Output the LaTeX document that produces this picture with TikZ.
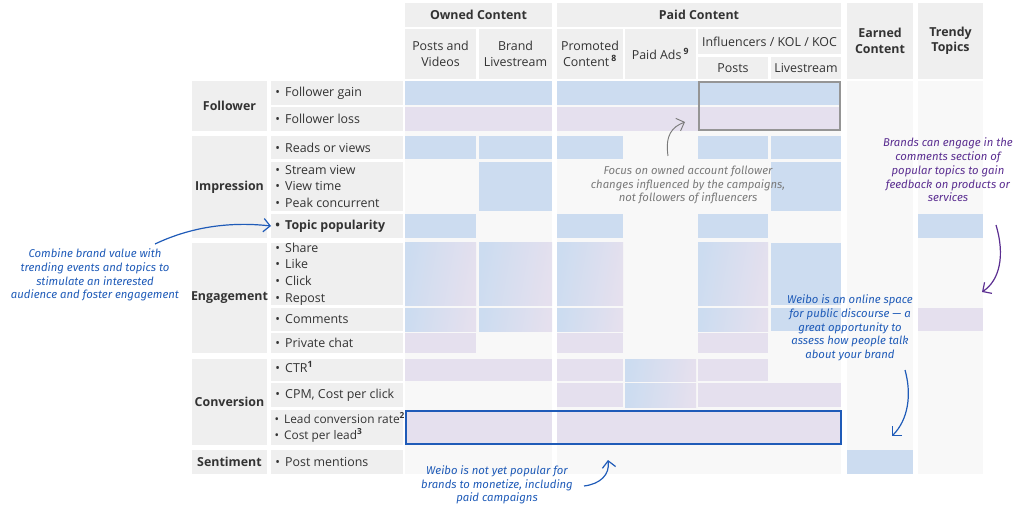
\documentclass[tikz,border=0pt]{standalone}
\usepackage{fontspec}
\setmainfont{Open Sans}
\newfontfamily\hand{Fira Sans}
\usetikzlibrary{fit,arrows.meta}
\definecolor{cb}{HTML}{CCDCF0}
\definecolor{cp}{HTML}{E5E0EE}
\definecolor{hg}{HTML}{EFEFEF}
\definecolor{bg}{HTML}{F8F8F8}
\definecolor{tx}{HTML}{333333}
\definecolor{ab}{HTML}{1F5BB8}
\definecolor{ap}{HTML}{5B2E91}
\definecolor{ag}{HTML}{7A7A7A}
\newcommand\cel[6]{\node[fit={(#2,#3)(#4,#5)},inner sep=0pt,outer sep=0pt,draw=none,#6] (#1) {};}
\tikzset{
  lab/.style={text=tx,font=\fontsize{9.3}{11.5}\selectfont,align=center,inner sep=0pt},
  hb/.style={lab,font=\bfseries\fontsize{9.3}{11.5}\selectfont},
  met/.style={text=tx,font=\fontsize{9.3}{12.5}\selectfont,align=left,anchor=west,inner sep=0pt},
  gr/.style={left color=cb,right color=cp,shading angle=80},
  note/.style={font=\hand\itshape\fontsize{8.5}{10.3}\selectfont,align=center,inner sep=0pt},
  arr/.style={-{Straight Barb[length=5pt]},line width=0.9pt}
}
\begin{document}
\begin{tikzpicture}[x=0.75pt,y=-0.75pt]
\useasboundingbox (0,0) rectangle (1024,527);
% body backgrounds
\cel{bgo}{405}{81}{552}{474}{fill=bg}
\cel{bgp}{557}{81}{841}{474}{fill=bg}
\cel{bge}{847}{81}{913}{474}{fill=bg}
\cel{bgt}{918}{81}{983}{474}{fill=bg}
% headers
\cel{hown}{405}{3}{552}{27}{fill=hg}
\cel{hpaid}{557}{3}{841}{27}{fill=hg}
\cel{hpv}{405}{29}{476}{79}{fill=hg}
\cel{hbl}{479}{29}{552}{79}{fill=hg}
\cel{hpc}{557}{29}{623}{79}{fill=hg}
\cel{hpa}{625}{29}{696}{79}{fill=hg}
\cel{hinf}{698}{29}{841}{54}{fill=hg}
\cel{hip}{698}{57}{768}{79}{fill=hg}
\cel{hil}{771}{57}{841}{79}{fill=hg}
\cel{hea}{847}{3}{913}{79}{fill=hg}
\cel{htr}{918}{3}{983}{79}{fill=hg}
\node[hb] at (hown) {Owned Content};
\node[hb] at (hpaid) {Paid Content};
\node[lab] at (hpv) {Posts and\\Videos};
\node[lab] at (hbl) {Brand\\Livestream};
\node[lab] at (hpc) {Promoted\\Content\,\textsuperscript{\bfseries 8}};
\node[lab] at (hpa) {Paid Ads\,\textsuperscript{\bfseries 9}};
\node[lab] at (hinf) {Influencers / KOL / KOC};
\node[lab] at (hip) {Posts};
\node[lab] at (hil) {Livestream};
\node[hb] at (hea) {Earned\\Content};
\node[hb] at (htr) {Trendy\\Topics};
% categories
\cel{cfol}{192}{81}{267}{131}{fill=hg}
\cel{cimp}{192}{136}{267}{238}{fill=hg}
\cel{ceng}{192}{243}{267}{353}{fill=hg}
\cel{ccon}{192}{359}{267}{445}{fill=hg}
\cel{csen}{192}{450}{267}{474}{fill=hg}
\node[hb] at (cfol) {Follower};
\node[hb] at (cimp) {Impression};
\node[hb] at (ceng) {Engagement};
\node[hb] at (ccon) {Conversion};
\node[hb] at (csen) {Sentiment};
% metrics
\cel{m1}{271}{81}{403}{105}{fill=hg}
\cel{m2}{271}{107}{403}{131}{fill=hg}
\cel{m3}{271}{136}{403}{159}{fill=hg}
\cel{m4}{271}{162}{403}{211}{fill=hg}
\cel{m5}{271}{214}{403}{238}{fill=hg}
\cel{m6}{271}{243}{403}{305}{fill=hg}
\cel{m7}{271}{308}{403}{331}{fill=hg}
\cel{m8}{271}{333}{403}{353}{fill=hg}
\cel{m9}{271}{359}{403}{381}{fill=hg}
\cel{m10}{271}{383}{403}{407}{fill=hg}
\cel{m11}{271}{410}{403}{445}{fill=hg}
\cel{m12}{271}{450}{403}{474}{fill=hg}
\node[met] at ([xshift=3pt]m1.west) {• \,Follower gain};
\node[met] at ([xshift=3pt]m2.west) {• \,Follower loss};
\node[met] at ([xshift=3pt]m3.west) {• \,Reads or views};
\node[met] at ([xshift=3pt]m4.west) {• \,Stream view\\• \,View time\\• \,Peak concurrent};
\node[met] at ([xshift=3pt]m5.west) {\bfseries • \,Topic popularity};
\node[met] at ([xshift=3pt]m6.west) {• \,Share\\• \,Like\\• \,Click\\• \,Repost};
\node[met] at ([xshift=3pt]m7.west) {• \,Comments};
\node[met] at ([xshift=3pt]m8.west) {• \,Private chat};
\node[met] at ([xshift=3pt,yshift=2pt]m9.west) {• \,CTR\textsuperscript{\bfseries 1}};
\node[met] at ([xshift=3pt]m10.west) {• \,CPM, Cost per click};
\node[met,font=\fontsize{8.9}{12.5}\selectfont] at ([xshift=2.5pt]m11.west) {• \,Lead conversion rate\textsuperscript{\bfseries 2}\\• \,Cost per lead\textsuperscript{\bfseries 3}};
\node[met] at ([xshift=3pt]m12.west) {• \,Post mentions};
% follower
\cel{f1o}{405}{81}{552}{105}{fill=cb}
\cel{f1p}{557}{81}{841}{105}{fill=cb}
\cel{f2o}{405}{107}{552}{131}{fill=cp}
\cel{f2p}{557}{107}{841}{131}{fill=cp}
\cel{finf}{699}{82}{840}{130}{draw=ag!80,line width=1.2pt}
% reads
\cel{r1}{405}{136}{476}{159}{fill=cb}
\cel{r2}{479}{136}{552}{159}{fill=cb}
\cel{r3}{557}{136}{623}{159}{fill=cb}
\cel{r4}{698}{136}{768}{159}{fill=cb}
\cel{r5}{771}{136}{841}{159}{fill=cb}
% stream
\cel{s2}{479}{162}{552}{211}{fill=cb}
\cel{s5}{771}{162}{841}{211}{fill=cb}
% topic
\cel{t1}{405}{214}{476}{238}{fill=cb}
\cel{t3}{557}{214}{623}{238}{fill=cb}
\cel{t4}{698}{214}{768}{238}{fill=cb}
\cel{t7}{918}{214}{983}{238}{fill=cb}
% share
\cel{e1}{405}{243}{476}{305}{gr}
\cel{e2}{479}{243}{552}{305}{gr}
\cel{e3}{557}{243}{623}{305}{gr}
\cel{e4}{698}{243}{768}{305}{gr}
\cel{e5}{771}{243}{841}{305}{fill=cb}
% comments
\cel{k1}{405}{308}{476}{331}{gr}
\cel{k2}{479}{308}{552}{331}{gr}
\cel{k3}{557}{308}{623}{331}{gr}
\cel{k4}{698}{308}{768}{331}{gr}
\cel{k5}{771}{308}{841}{331}{fill=cb}
\cel{k7}{918}{308}{983}{331}{fill=cp}
% private
\cel{p1}{405}{333}{476}{353}{fill=cp}
\cel{p3}{557}{333}{623}{353}{fill=cp}
\cel{p4}{698}{333}{768}{353}{fill=cp}
% ctr
\cel{c1}{405}{359}{552}{381}{fill=cp}
\cel{c3}{557}{359}{623}{381}{fill=cp}
\cel{c4}{625}{359}{696}{381}{gr}
\cel{c5}{698}{359}{768}{381}{fill=cp}
% cpm
\cel{d3}{557}{383}{623}{407}{fill=cp}
\cel{d4}{625}{383}{696}{407}{gr}
\cel{d5}{698}{383}{841}{407}{fill=cp}
% lead
\cel{l1}{405}{410}{552}{445}{fill=cp}
\cel{l2}{557}{410}{841}{445}{fill=cp}
\cel{lbox}{406}{411}{841}{444}{draw=ab,line width=1.3pt}
% sentiment
\cel{se}{847}{450}{913}{474}{fill=cb}
% notes
\node[note,text=ab] (n1) at (95,275) {Combine brand value with\\trending events and topics to\\stimulate an interested\\audience and foster engagement};
\draw[arr,ab] (155,244) .. controls (195,225) and (235,222) .. (m5.west);
\node[note,text=ag] (n2) at (688,185) {Focus on owned account follower\\changes influenced by the campaigns,\\not followers of influencers};
\draw[arr,ag,line width=0.7pt] (668,156) .. controls (665,135) and (672,127) .. (685,122);
\node[note,text=ap] (n3) at (948,170) {Brands can engage in the\\comments section of\\popular topics to gain\\feedback on products or\\services};
\draw[arr,ap] (996,225) .. controls (1005,255) and (1000,280) .. (982,292);
\node[note,text=ab] (n4) at (850,328) {Weibo is an online space\\for public discourse — a\\great opportunity to\\assess how people talk\\about your brand};
\draw[arr,ab] (905,370) .. controls (912,395) and (908,420) .. (892,436);
\node[note,text=ab] (n5) at (497,485) {Weibo is not yet popular for\\brands to monetize, including\\paid campaigns};
\draw[arr,ab] (584,486) .. controls (600,484) and (610,475) .. (608,460);
\end{tikzpicture}
\end{document}
